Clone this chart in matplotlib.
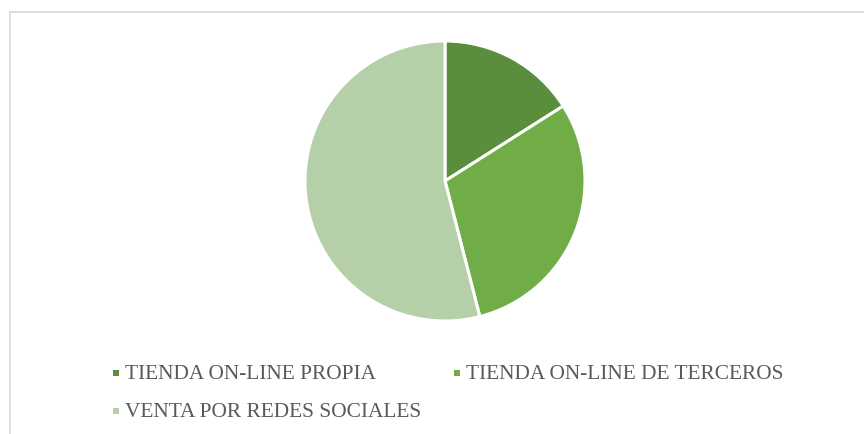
import matplotlib
matplotlib.use("Agg")
import matplotlib.pyplot as plt
from matplotlib.patches import Rectangle
from matplotlib.lines import Line2D

labels = ["TIENDA ON-LINE PROPIA", "TIENDA ON-LINE DE TERCEROS", "VENTA POR REDES SOCIALES"]
values = [16, 30, 54]
colors = ["#5A8E3C", "#70AD47", "#B5CFA8"]

W, H = 864, 435
fig = plt.figure(figsize=(W/100, H/100), dpi=100)
fig.patch.set_facecolor("white")

# border lines (top and left)
fig.add_artist(Line2D([9.5/W, 1], [1-12.5/H, 1-12.5/H], color="#D9D9D9", lw=1.2))
fig.add_artist(Line2D([9.5/W, 9.5/W], [0, 1-12.5/H], color="#D9D9D9", lw=1.2))

cx, cy, r = 445, 182, 140
ax = fig.add_axes([(cx-r)/W, (H-cy-r)/H, 2*r/W, 2*r/H])
ax.pie(values, colors=colors, startangle=90, counterclock=False,
       wedgeprops=dict(edgecolor="white", linewidth=2.2), radius=1.0)
ax.set_xlim(-1, 1); ax.set_ylim(-1, 1)
ax.set_aspect("equal")
ax.axis("off")

# legend
pos = [(116, 374), (457, 374), (116, 412)]
for (x, y), lab, c in zip(pos, labels, colors):
    s = 6
    fig.add_artist(Rectangle(((x - s/2)/W, (H - y - s/2)/H), s/W, s/H,
                             transform=fig.transFigure, color=c, lw=0))
    fig.text((x + 9)/W, (H - y - 1)/H, lab, fontsize=15.4, family="Liberation Serif",
             color="#595959", va="center", ha="left")

fig.savefig("out.png", dpi=100, facecolor="white")
